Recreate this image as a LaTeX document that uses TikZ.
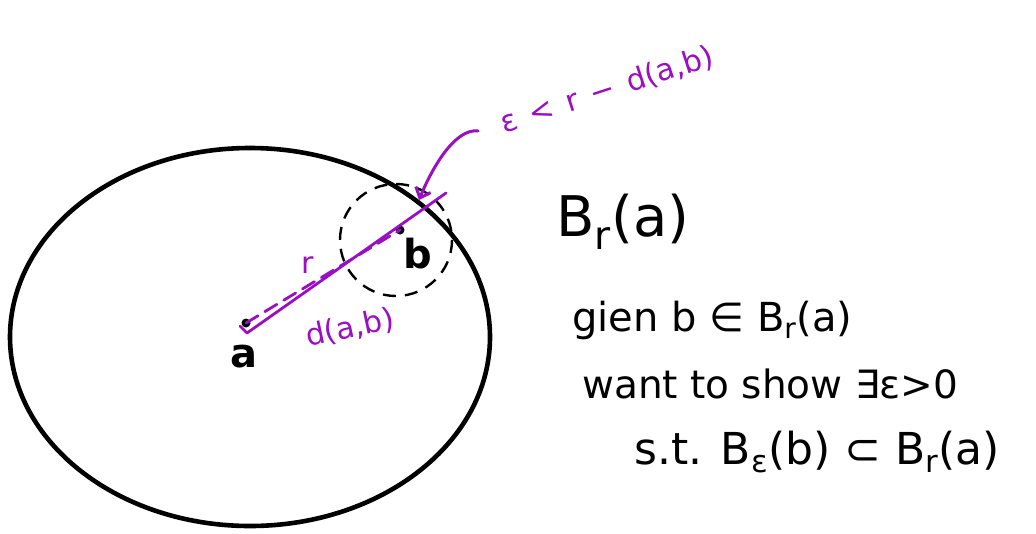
\documentclass[tikz,border=0pt]{standalone}
\usepackage{fontspec}
\setmainfont{DejaVu Sans}
\usetikzlibrary{arrows.meta}
\definecolor{pen}{RGB}{155,15,195}
\begin{document}
\begin{tikzpicture}[x=1pt,y=-1pt,
  inkblack/.style={line width=4.6pt,black},
  inkpen/.style={line width=2.8pt,pen,line cap=round,line join=round},
  bigtxt/.style={font=\fontsize{56}{60}\selectfont,inner sep=0pt,anchor=west},
  hand/.style={font=\fontsize{40}{44}\selectfont,inner sep=0pt,anchor=west},
  pentxt/.style={font=\fontsize{30}{34}\selectfont,text=pen,inner sep=0pt},
  ptlabel/.style={font=\fontsize{40}{42}\selectfont\bfseries,inner sep=0pt}]
\useasboundingbox (0,0) rectangle (1036,533);
\fill[white] (0,0) rectangle (1036,533);
% big ball
\draw[inkblack] (250,337) ellipse [x radius=240, y radius=189];
% small dashed ball
\draw[line width=2.4pt,dash pattern=on 13pt off 9pt] (396,240) circle [radius=56];
% points
\coordinate (a) at (246,323);
\coordinate (b) at (400,230);
\coordinate (edge) at (446,193);
\coordinate (astart) at (240,326);
\coordinate (acorner) at (247,333);
\fill (a) circle [radius=4.5];
\fill (b) circle [radius=4.5];
\node[ptlabel] (la) at (244,357) {a};
\node[ptlabel] (lb) at (418,254) {b};
% radius lines
\draw[inkpen] (astart) -- (acorner) -- (edge);
\draw[inkpen,dash pattern=on 14pt off 8pt] (a) -- (b);
\node[pentxt] (lr) at (308,265) {r};
\node[pentxt,rotate=12] (ld) at (350,328) {d(a,b)};
% epsilon label and arrow
\node[pentxt,rotate=18] (eps) at (607,90) {ε\hspace{0.45em}<\hspace{0.45em}r\hspace{0.45em}−\hspace{0.45em}d(a,b)};
\coordinate (arrstart) at (478,131);
\coordinate (arrend) at (419,200);
\draw[inkpen,line width=3pt,-{Straight Barb[length=9pt,width=16pt]}] (arrstart) .. controls (455,128) and (432,168) .. (arrend);
% right text
\node[bigtxt] (t1) at (556,222) {B\textsubscript{r}(a)};
\node[hand] (t2) at (572,320) {gien b ∈ B\textsubscript{r}(a)};
\node[hand,font=\fontsize{39}{42}\selectfont] (t3) at (582,384) {want to show ∃ε>0};
\node[hand,font=\fontsize{44}{48}\selectfont] (t4) at (634,452) {s.t. B\textsubscript{ε}(b) ⊂ B\textsubscript{r}(a)};
\end{tikzpicture}
\end{document}
